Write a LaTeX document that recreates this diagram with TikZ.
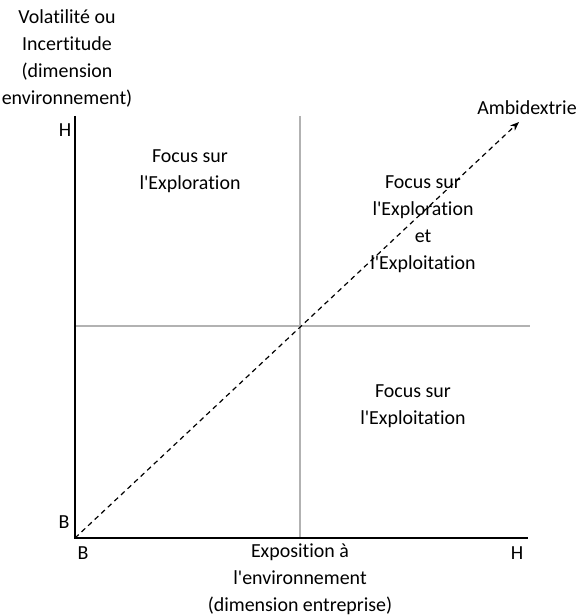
\documentclass[tikz,border=0pt]{standalone}
\usepackage{fontspec}
\setmainfont{Carlito}[Ligatures=NoCommon]
\usetikzlibrary{arrows.meta, positioning}
\newcommand{\aq}{\textquotesingle}

\begin{document}
\begin{tikzpicture}[
  x=1bp, y=-1bp,
  lbl/.style={inner sep=0pt, align=center, font=\fontsize{20}{27}\selectfont},
  axis/.style={line width=1.4bp, black},
  grid/.style={line width=1.4bp, black!30},
  arrow/.style={-{Stealth[length=9bp, width=7bp]}, dashed, line width=1.2bp, dash pattern=on 5bp off 4bp}
]
\useasboundingbox (0,0) rectangle (582,616);

\coordinate (O) at (75,538);
\coordinate (Ytop) at (75,116);
\coordinate (Xend) at (528,538);
\coordinate (Mtop) at (300,116);
\coordinate (Mbot) at (300,538);
\coordinate (Mleft) at (75,326);
\coordinate (Mright) at (530,326);
\coordinate (Tip) at (519,122);

\draw[grid] (Mtop) -- (Mbot);
\draw[grid] (Mleft) -- (Mright);
\draw[axis] (Ytop) -- (O) -- (Xend);
\draw[arrow] (O) -- (Tip);

\node[lbl] (ylab) at (67,58.5) {Volatilité ou\\Incertitude\\(dimension\\environnement)};
\node[lbl] (xlab) at (300,579) {Exposition à\\l\aq environnement\\(dimension entreprise)};
\node[lbl] (yH) at (65,130) {H};
\node[lbl] (yB) at (64,522) {B};
\node[lbl] (xB) at (83,553) {B};
\node[lbl] (xH) at (517,553) {H};
\node[lbl] (amb) at (527,108) {Ambidextrie};

\node[lbl] (q1) at (190,171.5) {Focus sur\\l\aq Exploration};
\node[lbl] (q2) at (423,224) {Focus sur\\l\aq Exploration\\et\\l\aq Exploitation};
\node[lbl] (q3) at (413,406.5) {Focus sur\\l\aq Exploitation};
\end{tikzpicture}
\end{document}
